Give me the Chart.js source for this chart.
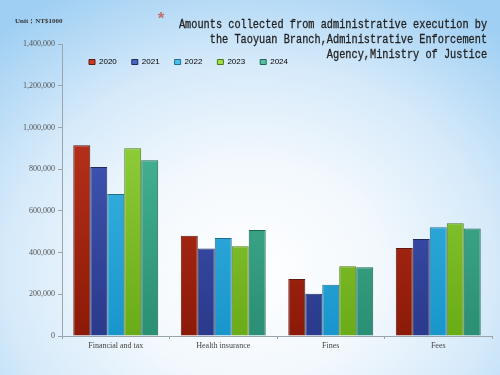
<!DOCTYPE html>
<html>
<head>
<meta charset="utf-8">
<script src="https://cdn.jsdelivr.net/npm/chart.js@4.4.1/dist/chart.umd.min.js"></script>
<style>
  html, body { margin: 0; padding: 0; }
  body {
    width: 500px; height: 375px; overflow: hidden; position: relative;
    background: radial-gradient(ellipse 75% 85% at 50% 72%, #ffffff 0%, #f2f8fd 35%, #d6eafa 65%, #9fcff3 100%);
  }
  #wrap { position: absolute; left: 0; top: 0; width: 500px; height: 375px; }
  .unit { position: absolute; left: 15px; top: 16px; font: bold 7px "Liberation Serif", serif; color: #333; }
  .star { position: absolute; left: 156px; top: 10px; font: bold 17px "Liberation Mono", monospace; color: #c07070; }
  .title {
    position: absolute; right: 13px; top: 17px; text-align: right;
    font: 13px "Liberation Mono", monospace; line-height: 15px; color: #222;
    -webkit-text-stroke: 0.3px #222;
    transform: scaleX(0.79); transform-origin: right top; white-space: nowrap;
  }
</style>
</head>
<body>
<div id="wrap"><canvas id="myChart" width="500" height="375"></canvas></div>
<div class="unit">Unit：NT$1000</div>
<div class="star">*</div>
<div class="title">Amounts collected from administrative execution by<br>the Taoyuan Branch,Administrative Enforcement<br>Agency,Ministry of Justice</div>
<script>
const categories = ["Financial and tax", "Health insurance", "Fines", "Fees"];
const years = ["2020", "2021", "2022", "2023", "2024"];
const values2020 = [914000, 481000, 273000, 422000];
const values2021 = [810000, 420000, 203000, 465000];
const values2022 = [681000, 470000, 246000, 521000];
const values2023 = [900000, 430000, 335000, 540000];
const values2024 = [843000, 508000, 330000, 516000];
const yTicks = [0, 200000, 400000, 600000, 800000, 1000000, 1200000, 1400000];

const seriesValues = [values2020, values2021, values2022, values2023, values2024];
// light top, dark bottom, border
const palette = [
  ["#c93a22", "#8c1a08", "#5e1a12"],
  ["#4a62c4", "#2a3a8c", "#1f2a5e"],
  ["#4cc0ea", "#1896cc", "#1f6f8f"],
  ["#a0dc48", "#6aab18", "#4c7a18"],
  ["#52c2a2", "#2a8f74", "#1f6552"],
];

const makeGradient = (chart, top, bottom) => {
  const area = chart.chartArea;
  if (!area) return top;
  const g = chart.ctx.createLinearGradient(0, area.top, 0, area.bottom);
  g.addColorStop(0, top);
  g.addColorStop(1, bottom);
  return g;
};

// legend sits inside the plot, next to the y axis
const legendShift = {
  id: "legendShift",
  afterLayout: (chart) => {
    const l = chart.legend;
    const dx = chart.chartArea.left + 12 - l.left;
    const dy = chart.chartArea.top - 1 - l.top;
    l.left += dx;
    l.right += dx;
    l.top += dy;
    l.bottom += dy;
  },
};

new Chart(document.getElementById("myChart"), {
  type: "bar",
  data: {
    labels: categories,
    datasets: seriesValues.map((vals, i) => ({
      label: years[i],
      data: vals,
      backgroundColor: (ctx) => makeGradient(ctx.chart, palette[i][0], palette[i][1]),
      borderColor: palette[i][2],
      borderWidth: 1,
      borderSkipped: "bottom",
      categoryPercentage: 0.79,
      barPercentage: 1.0,
    })),
  },
  options: {
    responsive: false,
    animation: false,
    layout: { padding: { left: 4, right: 8, top: 11, bottom: 20 } },
    scales: {
      y: {
        min: 0,
        max: 1400000,
        afterBuildTicks: (s) => { s.ticks = yTicks.map((v) => ({ value: v })); },
        afterFit: (s) => { s.width = 58; },
        grid: { drawOnChartArea: false, tickLength: 4, color: "#9aa4ad" },
        border: { color: "#9aa4ad" },
        ticks: {
          color: "#555",
          padding: 3,
          font: { family: "Liberation Serif", size: 8 },
          callback: (v) => v.toLocaleString("en-US"),
        },
      },
      x: {
        afterFit: (s) => { s.height = 19; },
        grid: { drawOnChartArea: false, offset: true, tickLength: 3, color: "#9aa4ad" },
        border: { color: "#9aa4ad" },
        ticks: {
          color: "#444",
          padding: 2,
          font: { family: "Liberation Serif", size: 8 },
        },
      },
    },
    plugins: {
      legend: {
        position: "top",
        align: "start",
        labels: {
          boxWidth: 6,
          boxHeight: 5,
          padding: 15,
          color: "#333",
          font: { family: "Liberation Sans", size: 8 },
          generateLabels: (chart) => chart.data.datasets.map((ds, i) => ({
            text: ds.label,
            fillStyle: palette[i][0],
            strokeStyle: palette[i][2],
            lineWidth: 1,
            datasetIndex: i,
          })),
        },
      },
      tooltip: { enabled: false },
    },
  },
  plugins: [legendShift],
});
</script>
</body>
</html>
